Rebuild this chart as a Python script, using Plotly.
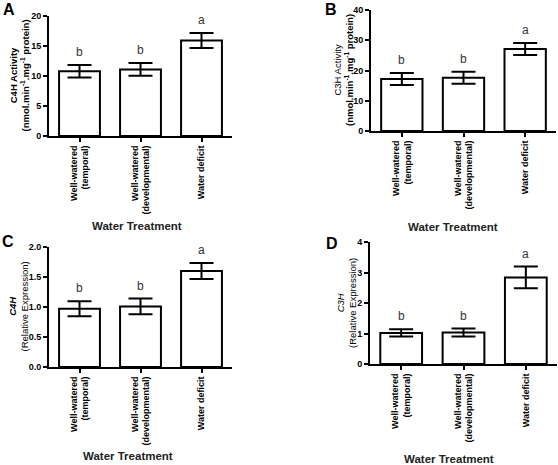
import plotly.graph_objects as go

# Data
treatments = ["Well-watered<br>(temporal)", "Well-watered<br>(developmental)", "Water deficit"]
letters = ["b", "b", "a"]

c4h_activity = [10.8, 11.1, 15.9]
c4h_activity_err = [1.05, 1.05, 1.25]

c3h_activity = [17.2, 17.6, 27.1]
c3h_activity_err = [2.0, 1.95, 2.0]

c4h_expression = [0.97, 1.01, 1.6]
c4h_expression_err = [0.125, 0.13, 0.135]

c3h_expression = [1.02, 1.03, 2.84]
c3h_expression_err = [0.12, 0.13, 0.355]

W, H = 558, 465
FONT = "Liberation Sans, Arial, sans-serif"


def xdom(left, right):
    return [left / W, right / W]


def ydom(bottom, top):
    return [(H - bottom) / H, (H - top) / H]


panels = [
    # values, errors, y range, dtick, tick format, x domain, y domain
    (c4h_activity, c4h_activity_err, [0, 20], 5, "d", xdom(49, 232), ydom(136, 16)),
    (c3h_activity, c3h_activity_err, [0, 40], 10, "d", xdom(371, 556), ydom(131, 10)),
    (c4h_expression, c4h_expression_err, [0, 2], 0.5, ".1f", xdom(49, 232), ydom(367, 247)),
    (c3h_expression, c3h_expression_err, [0, 4], 1, "d", xdom(370, 557), ydom(364, 242)),
]

fig = go.Figure()
layout = dict(
    template="none",
    width=W,
    height=H,
    margin=dict(l=0, r=0, t=0, b=0, pad=0),
    paper_bgcolor="white",
    plot_bgcolor="white",
    showlegend=False,
    font=dict(family=FONT, color="black"),
)
annotations = []

for i, (vals, errs, yr, dt, fmt, xd, yd) in enumerate(panels, start=1):
    xa = "x" if i == 1 else f"x{i}"
    ya = "y" if i == 1 else f"y{i}"
    fig.add_trace(
        go.Bar(
            x=treatments,
            y=vals,
            xaxis=xa,
            yaxis=ya,
            marker=dict(color="white", line=dict(color="black", width=2)),
            error_y=dict(type="data", array=errs, color="black", thickness=2, width=12),
            width=0.67,
        )
    )
    layout["xaxis" if i == 1 else f"xaxis{i}"] = dict(
        domain=xd,
        anchor=ya,
        range=[-0.5, 2.5],
        type="category",
        automargin=False,
        showline=True,
        linecolor="black",
        linewidth=2,
        ticks="outside",
        ticklen=4,
        tickwidth=1.5,
        tickcolor="black",
        tickangle=-90,
        tickfont=dict(size=9, weight="bold", family=FONT),
        showgrid=False,
        zeroline=False,
    )
    layout["yaxis" if i == 1 else f"yaxis{i}"] = dict(
        domain=yd,
        anchor=xa,
        range=yr,
        dtick=dt,
        tickformat=fmt,
        automargin=False,
        showline=True,
        linecolor="black",
        linewidth=2,
        ticks="outside",
        ticklen=4,
        tickwidth=1.5,
        tickcolor="black",
        tickfont=dict(size=9, weight="bold", family=FONT),
        showgrid=False,
        zeroline=False,
    )
    # significance letters above the error bars
    for cat, v, e, lt in zip(treatments, vals, errs, letters):
        annotations.append(dict(
            x=cat, y=v + e, xref=xa, yref=ya, text=lt, showarrow=False,
            yanchor="middle", yshift=13, font=dict(size=12, color="#333"),
        ))

# panel letters
for lbl, px, py in [("A", 9, 10), ("B", 331, 9), ("C", 8, 241), ("D", 332, 243)]:
    annotations.append(dict(
        x=px / W, y=(H - py) / H, xref="paper", yref="paper", text=lbl,
        showarrow=False, xanchor="center", yanchor="middle",
        font=dict(size=16, weight="bold", color="black"),
    ))

# x axis titles
for px, py in [(137, 226), (453, 227), (128, 456), (449, 459)]:
    annotations.append(dict(
        x=px / W, y=(H - py) / H, xref="paper", yref="paper", text="Water Treatment",
        showarrow=False, xanchor="center", yanchor="middle",
        font=dict(size=11.5, weight="bold", color="#222"),
    ))

# y axis titles
y_titles = [
    ("<b>C4H Activity<br>(nmol.min<sup>-1</sup>.mg<sup>-1</sup> protein)</b>", 18.5, 76),
    ("C3H Activity<br><b>(nmol.min<sup>-1</sup>.mg<sup>-1</sup> protein)</b>", 344, 70),
    ("<b><i>C4H</i></b><br>(Relative Expression)", 17.5, 307),
    ("<i>C3H</i><br>(Relative Expression)", 346, 303),
]
for txt, px, py in y_titles:
    annotations.append(dict(
        x=px / W, y=(H - py) / H, xref="paper", yref="paper", text=txt,
        showarrow=False, xanchor="center", yanchor="middle", textangle=-90,
        font=dict(size=9.5, color="black"),
    ))

layout["annotations"] = annotations
fig.update_layout(**layout)

# drop the default page margin so the figure sits at the window corner
fig.write_html(
    "out.html",
    config={"displayModeBar": False},
    post_script="document.body.style.margin='0';",
)
